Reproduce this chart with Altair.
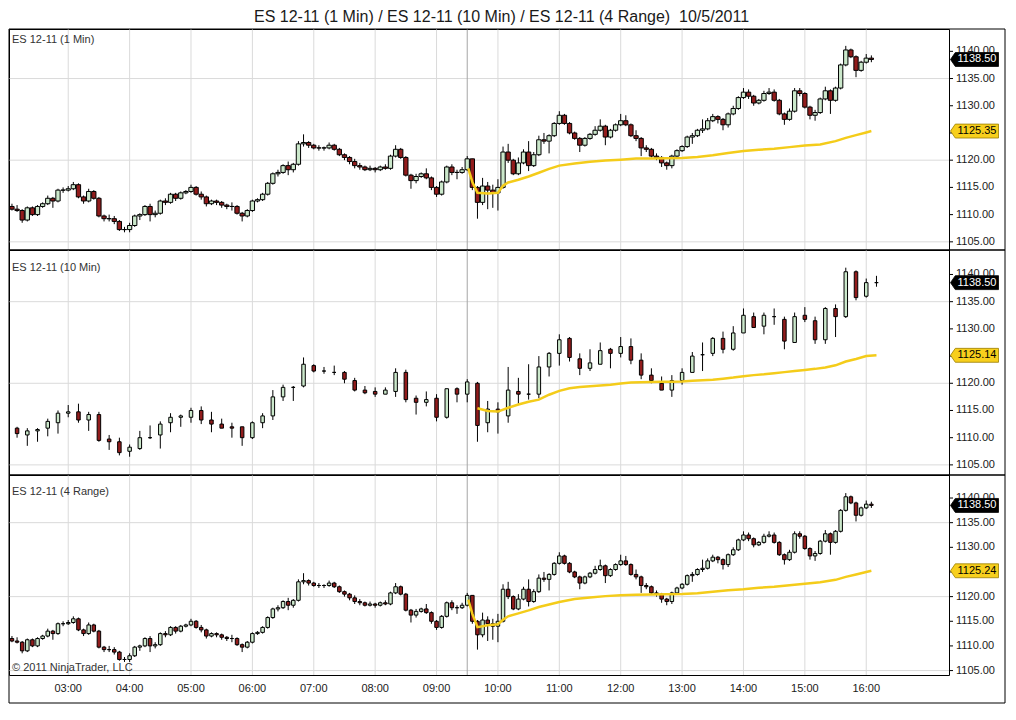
import altair as alt
import pandas as pd

FONT = "Liberation Sans"
TITLE = "ES 12-11 (1 Min) / ES 12-11 (10 Min) / ES 12-11 (4 Range) \u00a010/5/2011"
PANEL_NAMES = ["ES 12-11 (1 Min)", "ES 12-11 (10 Min)", "ES 12-11 (4 Range)"]
COPYRIGHT = "\u00a9 2011 NinjaTrader, LLC"
HOUR_LABELS = ["03:00", "04:00", "05:00", "06:00", "07:00", "08:00", "09:00",
               "10:00", "11:00", "12:00", "13:00", "14:00", "15:00", "16:00"]
PRICE_TICKS = [1105, 1110, 1115, 1120, 1125, 1130, 1135, 1140]
GRID_PRICES = [1105, 1120, 1135]
SESSION_OPEN = "09:30"
LAST_PRICE = 1138.50
VWAP_LAST = [1125.35, 1125.14, 1125.24]

# ---- 1-minute chart at 5-minute steps (02:05 .. 16:05)
M5_START = "02:05"
M5_FIRST_OPEN = 1111.50
M5_CLOSE = [
    1111.00, 1110.75, 1109.00, 1111.25, 1110.00, 1111.50, 1112.00, 1113.00, 1112.50, 1114.50, 1114.50, 1114.75,
    1115.50, 1113.25, 1112.50, 1114.25, 1113.00, 1109.75, 1109.25, 1109.25, 1108.75, 1107.25, 1107.25, 1108.00,
    1109.75, 1110.00, 1111.50, 1110.00, 1110.25, 1112.50, 1112.25, 1113.75, 1113.00, 1114.00, 1114.25, 1115.00,
    1113.75, 1113.25, 1112.00, 1112.50, 1112.25, 1111.75, 1111.50, 1111.50, 1110.25, 1109.75, 1110.75, 1112.50,
    1112.75, 1113.75, 1115.75, 1117.50, 1117.75, 1119.00, 1118.25, 1119.25, 1123.00, 1123.25, 1122.75, 1122.25,
    1122.25, 1122.25, 1122.75, 1122.00, 1121.00, 1120.50, 1119.75, 1119.00, 1118.75, 1118.25, 1118.50, 1118.25,
    1118.75, 1118.50, 1120.75, 1122.00, 1120.50, 1117.25, 1116.25, 1117.00, 1117.50, 1116.75, 1115.00, 1113.75,
    1116.00, 1118.75, 1117.75, 1117.75, 1118.25, 1120.25, 1115.00, 1112.25, 1115.25, 1114.50, 1114.00, 1115.00,
    1121.50, 1120.00, 1117.50, 1119.50, 1121.50, 1119.00, 1121.00, 1123.75, 1123.50, 1124.50, 1126.75, 1128.25,
    1126.75, 1125.00, 1124.00, 1122.75, 1124.00, 1124.75, 1125.50, 1126.25, 1124.25, 1125.50, 1126.50, 1127.25,
    1126.50, 1124.50, 1124.00, 1122.25, 1122.00, 1120.75, 1120.50, 1119.50, 1119.00, 1120.75, 1121.75, 1122.50,
    1124.25, 1124.50, 1125.50, 1125.75, 1127.25, 1128.00, 1127.50, 1126.50, 1128.50, 1129.50, 1131.50, 1132.50,
    1131.75, 1130.50, 1131.00, 1132.25, 1132.50, 1131.00, 1128.50, 1127.50, 1129.00, 1132.75, 1132.25, 1129.75,
    1128.25, 1128.75, 1131.25, 1132.75, 1131.00, 1133.25, 1137.50, 1140.25, 1139.00, 1136.50, 1138.00, 1138.75,
    1138.50,
]
M5_HIGH = [
    1112.00, 1111.75, 1111.00, 1111.50, 1111.50, 1111.75, 1112.25, 1113.50, 1113.25, 1114.75, 1115.00, 1115.25,
    1116.00, 1115.75, 1113.50, 1114.75, 1114.50, 1113.25, 1110.00, 1110.00, 1109.75, 1109.00, 1107.75, 1108.50,
    1110.00, 1110.25, 1111.75, 1112.00, 1110.75, 1112.75, 1113.00, 1114.00, 1114.00, 1114.25, 1114.50, 1115.50,
    1115.25, 1114.25, 1113.50, 1112.75, 1112.75, 1112.50, 1112.00, 1112.25, 1111.75, 1110.50, 1111.00, 1112.75,
    1113.00, 1114.00, 1116.00, 1117.75, 1118.25, 1119.25, 1119.75, 1119.50, 1123.50, 1124.75, 1123.50, 1123.00,
    1122.75, 1122.50, 1123.25, 1123.00, 1122.25, 1121.25, 1120.75, 1120.25, 1119.50, 1119.00, 1119.00, 1118.75,
    1119.00, 1119.25, 1121.00, 1122.75, 1122.25, 1120.75, 1117.50, 1117.50, 1117.75, 1118.50, 1117.00, 1115.25,
    1116.25, 1119.00, 1119.25, 1118.25, 1118.75, 1120.75, 1120.25, 1115.25, 1116.75, 1116.00, 1115.50, 1116.50,
    1122.50, 1123.00, 1120.25, 1120.50, 1122.00, 1123.50, 1121.50, 1124.50, 1125.00, 1124.75, 1127.00, 1129.00,
    1128.50, 1127.00, 1125.25, 1124.25, 1124.25, 1125.00, 1126.25, 1127.50, 1126.50, 1125.75, 1126.75, 1128.50,
    1128.25, 1126.75, 1125.50, 1124.25, 1122.75, 1122.25, 1121.25, 1120.75, 1119.75, 1121.00, 1122.00, 1122.75,
    1124.50, 1125.00, 1125.75, 1127.50, 1127.75, 1128.50, 1128.25, 1127.75, 1128.75, 1130.00, 1131.75, 1133.25,
    1133.00, 1132.00, 1131.25, 1132.75, 1133.25, 1133.00, 1131.25, 1128.75, 1129.50, 1133.25, 1133.25, 1132.50,
    1130.00, 1129.25, 1131.50, 1133.50, 1133.00, 1133.50, 1137.75, 1141.00, 1140.50, 1139.25, 1138.25, 1139.50,
    1139.25,
]
M5_LOW = [
    1110.75, 1110.50, 1108.50, 1108.75, 1109.75, 1109.75, 1111.25, 1111.75, 1111.25, 1112.25, 1114.00, 1114.25,
    1114.50, 1113.00, 1112.00, 1112.25, 1112.75, 1109.50, 1108.75, 1108.75, 1108.25, 1107.00, 1106.75, 1106.75,
    1107.75, 1109.00, 1109.75, 1108.75, 1109.50, 1110.00, 1111.75, 1112.00, 1112.50, 1112.75, 1113.75, 1114.00,
    1113.50, 1112.75, 1111.50, 1111.75, 1111.75, 1111.25, 1111.00, 1110.75, 1110.00, 1108.75, 1109.50, 1110.50,
    1112.25, 1112.50, 1113.50, 1115.50, 1117.00, 1117.50, 1117.25, 1117.75, 1119.00, 1122.50, 1122.25, 1122.00,
    1121.75, 1121.75, 1122.00, 1121.75, 1120.75, 1120.00, 1119.25, 1118.50, 1118.25, 1118.00, 1118.00, 1117.75,
    1118.00, 1118.25, 1118.25, 1120.50, 1120.25, 1117.00, 1114.75, 1115.75, 1116.75, 1116.50, 1114.50, 1113.25,
    1113.50, 1115.75, 1117.25, 1116.50, 1117.50, 1118.00, 1114.50, 1109.25, 1111.75, 1111.00, 1111.25, 1110.75,
    1114.75, 1119.50, 1117.25, 1117.25, 1119.25, 1118.00, 1118.75, 1120.75, 1123.00, 1121.25, 1124.25, 1126.50,
    1126.50, 1124.75, 1123.75, 1121.50, 1122.50, 1123.75, 1124.50, 1125.25, 1122.75, 1124.00, 1125.25, 1126.25,
    1126.25, 1124.25, 1123.50, 1120.75, 1121.50, 1120.50, 1120.00, 1118.75, 1118.25, 1118.50, 1120.50, 1121.50,
    1122.25, 1123.00, 1124.25, 1125.00, 1125.50, 1127.00, 1126.75, 1125.50, 1126.00, 1128.25, 1129.25, 1131.25,
    1131.25, 1130.00, 1130.25, 1130.75, 1132.00, 1130.75, 1128.25, 1126.50, 1127.25, 1128.75, 1131.75, 1129.50,
    1127.50, 1127.25, 1128.50, 1131.00, 1128.50, 1130.75, 1133.00, 1137.25, 1138.75, 1135.25, 1136.25, 1137.75,
    1138.00,
]

# ---- 10-minute chart (02:10 .. 16:10)
M10_START = "02:10"
M10_OPEN = [
    1111.75, 1110.50, 1111.25, 1111.75, 1112.75, 1114.50,
    1114.75, 1113.25, 1114.25, 1109.75, 1109.25, 1107.50,
    1108.00, 1110.00, 1110.50, 1112.75, 1113.75, 1113.75,
    1115.00, 1113.25, 1112.50, 1112.00, 1112.00, 1110.00,
    1112.75, 1114.00, 1117.50, 1119.25, 1119.50, 1123.25,
    1122.25, 1122.00, 1122.00, 1120.50, 1118.75, 1118.50,
    1118.00, 1118.50, 1122.00, 1117.25, 1116.50, 1117.25,
    1113.75, 1119.00, 1118.00, 1120.00, 1112.75, 1115.25,
    1114.00, 1118.50, 1118.00, 1118.00, 1123.00, 1125.50,
    1128.25, 1124.50, 1122.75, 1123.50, 1126.25, 1125.50,
    1126.75, 1124.25, 1121.50, 1120.00, 1118.75, 1120.50,
    1122.00, 1125.25, 1125.50, 1128.25, 1126.25, 1129.25,
    1132.25, 1130.50, 1132.25, 1131.75, 1127.50, 1132.50,
    1131.50, 1128.00, 1133.75, 1132.25, 1140.50, 1136.00,
    1138.50,
]
M10_HIGH = [
    1112.00, 1111.75, 1111.75, 1113.50, 1115.00, 1116.00,
    1116.25, 1114.75, 1114.75, 1110.50, 1110.00, 1108.75,
    1111.25, 1112.25, 1113.00, 1114.50, 1114.25, 1115.50,
    1115.75, 1114.75, 1113.50, 1112.75, 1112.00, 1113.00,
    1114.50, 1118.75, 1119.75, 1119.50, 1124.75, 1123.50,
    1123.00, 1123.25, 1122.25, 1121.00, 1119.50, 1119.25,
    1119.25, 1122.75, 1122.50, 1117.75, 1118.50, 1118.00,
    1119.00, 1119.25, 1120.75, 1120.25, 1116.75, 1116.50,
    1123.00, 1121.00, 1123.50, 1125.00, 1125.75, 1129.00,
    1128.50, 1125.50, 1126.25, 1127.50, 1126.50, 1128.50,
    1128.25, 1125.50, 1122.75, 1121.25, 1121.50, 1122.75,
    1125.75, 1127.50, 1128.50, 1129.50, 1130.50, 1133.75,
    1133.00, 1133.00, 1133.75, 1132.25, 1133.00, 1134.00,
    1132.25, 1134.00, 1134.50, 1141.25, 1140.75, 1139.25,
    1139.75,
]
M10_LOW = [
    1110.00, 1108.50, 1109.25, 1110.25, 1110.75, 1113.75,
    1112.75, 1111.25, 1109.25, 1107.75, 1106.75, 1106.50,
    1107.75, 1109.75, 1108.00, 1111.00, 1112.00, 1112.75,
    1112.50, 1111.00, 1111.75, 1110.00, 1108.50, 1109.75,
    1111.75, 1113.25, 1116.75, 1116.75, 1119.25, 1122.00,
    1121.75, 1121.50, 1120.00, 1118.50, 1118.00, 1117.50,
    1118.00, 1117.50, 1116.50, 1114.25, 1115.75, 1113.00,
    1113.50, 1116.50, 1116.50, 1109.25, 1111.00, 1110.75,
    1112.75, 1116.25, 1117.00, 1117.25, 1121.25, 1123.25,
    1124.00, 1121.50, 1122.25, 1123.50, 1122.75, 1124.75,
    1123.50, 1120.75, 1120.00, 1118.75, 1117.50, 1119.75,
    1122.00, 1122.25, 1125.00, 1125.50, 1126.00, 1129.25,
    1130.25, 1129.00, 1130.75, 1126.25, 1127.50, 1131.25,
    1127.25, 1127.25, 1128.50, 1132.00, 1135.25, 1135.75,
    1137.75,
]
M10_CLOSE = [
    1110.75, 1111.25, 1111.50, 1113.00, 1114.50, 1114.75,
    1113.25, 1114.25, 1109.50, 1109.25, 1107.25, 1108.25,
    1110.00, 1110.00, 1112.50, 1113.75, 1114.00, 1115.00,
    1113.25, 1112.50, 1111.75, 1111.75, 1110.00, 1112.75,
    1114.00, 1117.50, 1119.25, 1119.25, 1123.50, 1122.25,
    1122.25, 1122.00, 1120.75, 1118.75, 1118.25, 1118.00,
    1118.75, 1122.00, 1117.00, 1116.50, 1117.00, 1113.75,
    1119.00, 1118.00, 1120.25, 1112.25, 1115.25, 1114.75,
    1118.75, 1118.00, 1118.00, 1123.00, 1125.50, 1128.00,
    1124.75, 1122.75, 1123.75, 1126.00, 1125.50, 1126.75,
    1124.25, 1121.50, 1120.50, 1118.75, 1120.50, 1122.00,
    1125.00, 1125.25, 1128.25, 1126.25, 1129.25, 1132.50,
    1130.25, 1132.50, 1132.25, 1127.75, 1132.25, 1131.75,
    1128.00, 1133.75, 1132.25, 1140.50, 1135.75, 1138.50,
    1138.50,
]

# ---- session VWAP lines
VWAP_TIMES = ["09:31", "09:35", "09:40", "09:50", "10:00", "10:05", "10:10", "10:20", "10:30",
              "10:40", "10:50", "11:00", "11:15", "11:30", "11:45", "12:00", "12:15", "12:30",
              "12:45", "13:00", "13:15", "13:30", "13:45", "14:00", "14:15", "14:30", "14:45",
              "15:00", "15:15", "15:30", "15:40", "15:50", "16:00", "16:05"]
VWAP_1MIN = [1118.5, 1116.0, 1114.0, 1113.9, 1114.0, 1115.3, 1115.9, 1116.4, 1117.0,
             1117.7, 1118.4, 1119.0, 1119.4, 1119.7, 1119.95, 1120.1, 1120.3, 1120.3,
             1120.35, 1120.4, 1120.6, 1120.9, 1121.3, 1121.7, 1121.9, 1122.1, 1122.4,
             1122.7, 1122.9, 1123.5, 1124.1, 1124.6, 1125.1, 1125.35]
VWAP_4RANGE = [1119.4, 1116.5, 1113.8, 1114.2, 1114.4, 1115.3, 1116.0, 1116.6, 1117.2,
               1117.9, 1118.4, 1118.9, 1119.5, 1119.8, 1120.1, 1120.3, 1120.4, 1120.45,
               1120.5, 1120.55, 1120.7, 1121.0, 1121.3, 1121.5, 1121.8, 1122.0, 1122.3,
               1122.6, 1122.9, 1123.4, 1124.0, 1124.5, 1125.0, 1125.24]
VWAP10_START = "09:40"
VWAP_10MIN = [1115.4, 1114.9, 1114.8, 1115.5, 1116.1, 1116.6, 1117.0, 1117.9, 1118.6, 1119.1,
              1119.3, 1119.45, 1119.6, 1119.75, 1119.95, 1120.15, 1120.2, 1120.25, 1120.3, 1120.3,
              1120.35, 1120.45, 1120.55, 1120.65, 1120.85, 1121.05, 1121.3, 1121.5, 1121.65, 1121.85,
              1122.05, 1122.25, 1122.45, 1122.65, 1122.9, 1123.3, 1124.0, 1124.45, 1125.0, 1125.14]

# ---- layout / style
W = 940
HEIGHTS = [221, 225, 200]
BOX_R = 996
BOTTOM_BOX = 228
X_DOMAIN = ["02:07", "17:16"]
Y_DOMAINS = [[1103.5, 1144.1], [1103.14, 1144.5], [1104.1, 1144.67]]
LABEL_Y = [11, 18, 17]
GREEN = "#cbe8cb"
RED = "#921c1c"
GRID = "#dadada"
SESSION = "#a6a6a6"
VWAP_COLOR = "#f4cc1a"
TAG_YELLOW = "#f7cf1d"
TEXT = "#1a1a1a"
TAG_PATH = "M -1 0 L -0.8 -0.29 L 1 -0.29 L 1 0.29 L -0.8 0.29 Z"


def tmin(s):
    h, m = s.split(":")
    return int(h) * 60 + int(m)


def candle_frame(start, step, o, h, l, c):
    df = pd.DataFrame({"o": o, "h": h, "l": l, "c": c})
    df["t"] = [tmin(start) + step * k for k in range(len(df))]
    df["lo"] = df[["o", "c"]].min(axis=1)
    df["hi"] = df[["o", "c"]].max(axis=1)
    return df


m5 = candle_frame(M5_START, 5, [M5_FIRST_OPEN] + M5_CLOSE[:-1], M5_HIGH, M5_LOW, M5_CLOSE)
m10 = candle_frame(M10_START, 10, M10_OPEN, M10_HIGH, M10_LOW, M10_CLOSE)

vwap1 = pd.DataFrame({"t": [tmin(s) for s in VWAP_TIMES], "v": VWAP_1MIN})
vwap4 = pd.DataFrame({"t": [tmin(s) for s in VWAP_TIMES], "v": VWAP_4RANGE})
vwap10 = pd.DataFrame({"t": [tmin(VWAP10_START) + 10 * k for k in range(len(VWAP_10MIN))],
                       "v": VWAP_10MIN})

hours_df = pd.DataFrame({"t": [tmin(s) for s in HOUR_LABELS], "lab": HOUR_LABELS})
grid_df = pd.DataFrame({"p": GRID_PRICES})
ticks_df = pd.DataFrame({"p": PRICE_TICKS})
session_df = pd.DataFrame({"t": [tmin(SESSION_OPEN)]})


def panel(i, candles, bar_size, vwap_df):
    H = HEIGHTS[i]
    xs = alt.Scale(domain=[tmin(X_DOMAIN[0]), tmin(X_DOMAIN[1])], nice=False, zero=False)
    ys = alt.Scale(domain=Y_DOMAINS[i], nice=False, zero=False)
    X = alt.X("t:Q", scale=xs, axis=None)

    def Y(f):
        return alt.Y(f, scale=ys, axis=None)

    tags = pd.DataFrame({"v": [LAST_PRICE, VWAP_LAST[i]], "kind": ["last", "vwap"]})
    name_df = pd.DataFrame({"s": [PANEL_NAMES[i]]})

    layers = [
        alt.Chart(grid_df).mark_rule(color=GRID, strokeWidth=1).encode(y=Y("p:Q")),
        alt.Chart(hours_df).mark_rule(color=GRID, strokeWidth=1).encode(x=X),
        alt.Chart(session_df).mark_rule(color=SESSION, strokeWidth=1).encode(x=X),
        alt.Chart(candles).mark_rule(color="#000", strokeWidth=1, clip=True).encode(
            x=X, y=Y("l:Q"), y2="h:Q"),
        alt.Chart(candles).mark_bar(size=bar_size, stroke="#000", strokeWidth=1, clip=True).encode(
            x=X, y=Y("lo:Q"), y2="hi:Q",
            fill=alt.condition("datum.c >= datum.o", alt.value(GREEN), alt.value(RED))),
        alt.Chart(vwap_df).mark_line(color=VWAP_COLOR, strokeWidth=2.5).encode(x=X, y=Y("v:Q")),
        # right price axis: ticks + labels (the label under the VWAP tag is covered in the original)
        alt.Chart(ticks_df).mark_rule(color="#000", strokeWidth=1).encode(
            x=alt.value(W), x2=alt.value(W + 4), y=Y("p:Q")),
        alt.Chart(ticks_df).transform_filter(
            f"abs(datum.p - {VWAP_LAST[i]}) > 1"
        ).mark_text(fontSize=11, align="left", baseline="middle", color=TEXT).encode(
            x=alt.value(W + 7), y=Y("p:Q"), text=alt.Text("p:Q", format=".2f")),
        # price tags
        alt.Chart(tags).mark_point(shape=TAG_PATH, size=2304, filled=True, opacity=1,
                                   strokeWidth=0.8).encode(
            x=alt.value(W + 25.5), y=Y("v:Q"),
            fill=alt.condition("datum.kind == 'last'", alt.value("#000000"), alt.value(TAG_YELLOW)),
            stroke=alt.condition("datum.kind == 'last'", alt.value("#000000"), alt.value("#9a7d00"))),
        alt.Chart(tags).mark_text(fontSize=11, align="center", baseline="middle").encode(
            x=alt.value(W + 28), y=Y("v:Q"),
            text=alt.Text("v:Q", format=".2f"),
            color=alt.condition("datum.kind == 'last'", alt.value("#ffffff"), alt.value("#000000"))),
        alt.Chart(name_df).mark_text(fontSize=11, align="left", baseline="middle", color="#333").encode(
            x=alt.value(3), y=alt.value(LABEL_Y[i]), text="s:N"),
        alt.Chart(name_df).mark_rect(fillOpacity=0, stroke="#000", strokeWidth=1).encode(
            x=alt.value(0), x2=alt.value(BOX_R), y=alt.value(0),
            y2=alt.value(BOTTOM_BOX if i == 2 else H)),
    ]
    if i == 0:
        title_df = pd.DataFrame({"s": [TITLE]})
        layers.append(alt.Chart(title_df).mark_text(fontSize=16, align="center", baseline="middle",
                                                    color=TEXT).encode(
            x=alt.value(492.5), y=alt.value(-12), text="s:N"))
    if i == 2:
        copy_df = pd.DataFrame({"s": [COPYRIGHT]})
        layers.append(alt.Chart(copy_df).mark_text(fontSize=11, align="left", baseline="middle",
                                                   color="#333").encode(
            x=alt.value(3), y=alt.value(193), text="s:N"))
        layers.append(alt.Chart(hours_df).mark_text(fontSize=11, align="center", baseline="middle",
                                                    color=TEXT).encode(
            x=X, y=alt.value(H + 14), text="lab:N"))
    return alt.layer(*layers).properties(width=W, height=H)


p1 = panel(0, m5, 4.3, vwap1)
p2 = panel(1, m10, 3.5, vwap10)
p3 = panel(2, m5, 3.5, vwap4)

chart = alt.vconcat(p1, p2, p3, spacing=0, bounds="flush").properties(
    padding=0
).configure(font=FONT, background="white").configure_view(stroke="#000", strokeWidth=1)

chart.save("out.html", embed_options={"renderer": "svg", "actions": False})
